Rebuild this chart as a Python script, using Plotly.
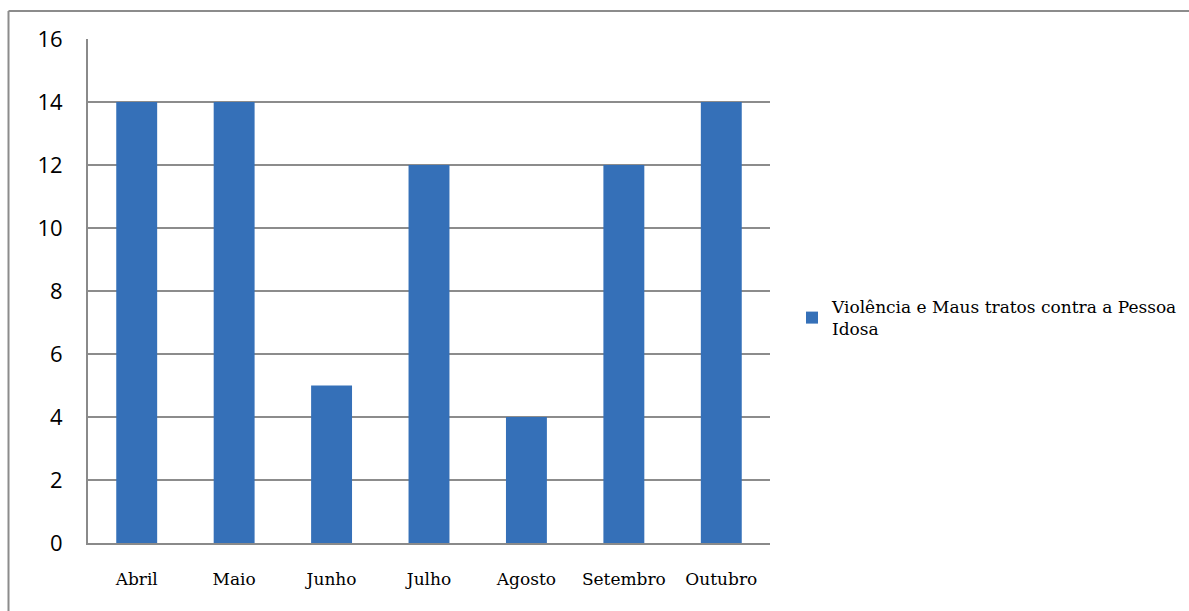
import plotly.graph_objects as go

months = ["Abril", "Maio", "Junho", "Julho", "Agosto", "Setembro", "Outubro"]
values = [14, 14, 5, 12, 4, 12, 14]
series_name = "Violência e Maus tratos contra a Pessoa<br>Idosa"
y_ticks = [0, 2, 4, 6, 8, 10, 12, 14, 16]

fig = go.Figure()
fig.add_trace(go.Bar(
    x=months, y=values, name=series_name,
    marker=dict(color="#3570B8", line=dict(width=0)),
    showlegend=True,
))

W, H = 1189, 611
L, R, T, B = 88, 770, 39, 543
pw, ph = R - L, B - T
serif = "DejaVu Serif, Liberation Serif, serif"

fig.update_layout(
    width=W, height=H,
    margin=dict(l=L, r=W - R, t=T, b=H - B, pad=0, autoexpand=False),
    paper_bgcolor="white", plot_bgcolor="white",
    bargap=0.58,
    showlegend=True,
    legend=dict(
        x=(792 - L) / pw, y=(B - 318) / ph, xanchor="left", yanchor="middle",
        font=dict(family=serif, size=17, color="black"),
        bgcolor="rgba(0,0,0,0)", itemwidth=30,
    ),
    xaxis=dict(
        showgrid=False, showline=True, linecolor="#8a8a8a", linewidth=2,
        ticks="", tickfont=dict(family=serif, size=17, color="black"),
        ticklabelstandoff=20, range=[-0.5, 6.5],
    ),
    yaxis=dict(
        range=[0, 16], tickvals=y_ticks, showgrid=True, gridcolor="#8c8c8c", gridwidth=1.5,
        showline=True, linecolor="#8a8a8a", linewidth=2, zeroline=False,
        ticks="", tickfont=dict(family="Open Sans", size=22, color="black"),
        ticklabelstandoff=19,
    ),
    shapes=[
        dict(type="line", xref="paper", yref="paper",
             x0=(8.5 - L) / pw, x1=(W + 5 - L) / pw, y0=(B - 11) / ph, y1=(B - 11) / ph,
             line=dict(color="#8c8c8c", width=2)),
        dict(type="line", xref="paper", yref="paper",
             x0=(8.5 - L) / pw, x1=(8.5 - L) / pw, y0=(B - 11) / ph, y1=(B - H - 5) / ph,
             line=dict(color="#8c8c8c", width=2)),
    ],
)

fig.write_html("out.html")
